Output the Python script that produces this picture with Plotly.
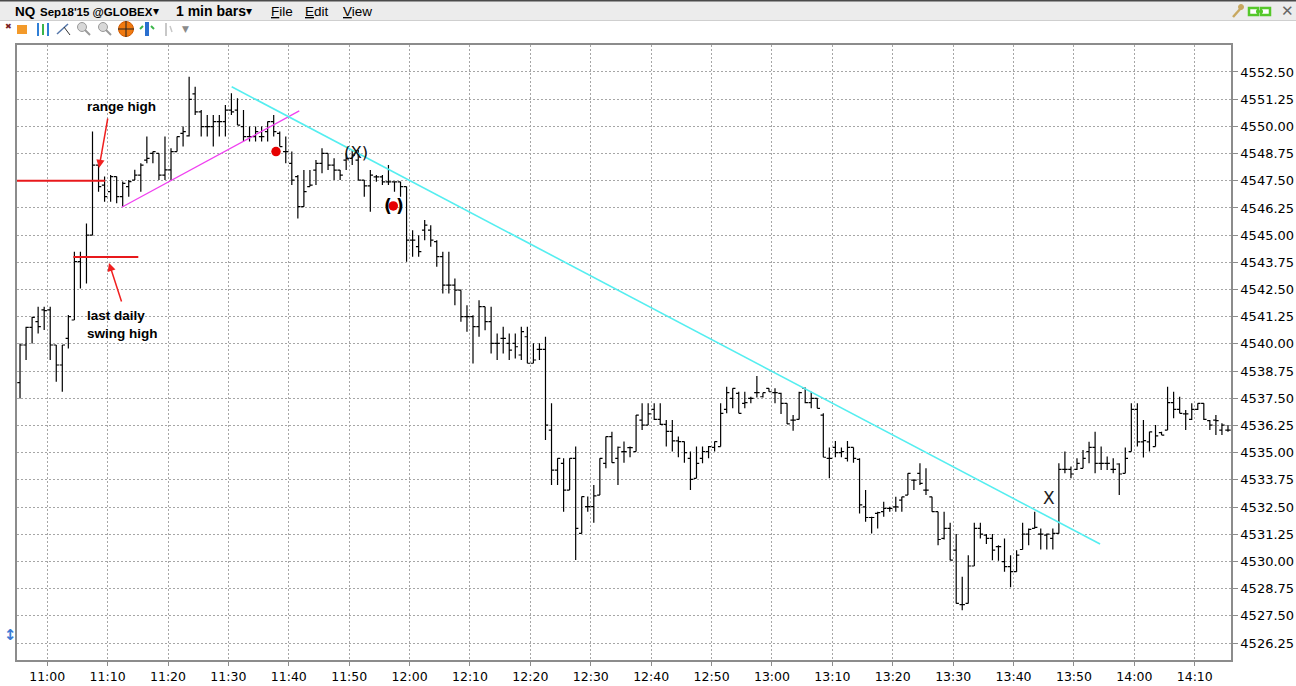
import pandas as pd
import plotly.graph_objects as go

# NQ Sep18'15, 1 minute bars (the session date is not shown on the chart)
DAY = "2015-08-27"

opens = [
    4538.22, 4539.95, 4540.76, 4541.02, 4541.56, 4541.56, 4539.95, 4539.03, 4540.25, 4541.10,
    4543.78, 4544.01, 4545.00, 4548.22, 4547.30, 4547.00, 4547.69, 4546.77, 4547.23, 4547.53,
    4547.76, 4548.45, 4548.76, 4548.76, 4547.76, 4548.00, 4548.84, 4549.68, 4549.56, 4551.49,
    4550.67, 4549.99, 4549.99, 4550.22, 4550.22, 4550.75, 4550.75, 4549.99, 4549.53, 4549.53,
    4549.53, 4549.76, 4550.22, 4549.68, 4548.84, 4548.30, 4547.69, 4546.31, 4547.23, 4547.99,
    4548.30, 4548.76, 4548.22, 4547.99, 4548.45, 4548.53, 4548.45, 4547.53, 4547.26, 4547.68,
    4547.68, 4547.45, 4547.45, 4547.45, 4547.23, 4544.77, 4544.47, 4545.23, 4545.23, 4544.70,
    4544.01, 4542.70, 4542.70, 4542.47, 4541.25, 4541.25, 4540.79, 4541.71, 4541.02, 4540.02,
    4540.25, 4540.02, 4540.02, 4539.49, 4540.33, 4539.11, 4539.75, 4539.75, 4536.04, 4534.20,
    4534.51, 4533.28, 4534.74, 4531.29, 4532.52, 4532.52, 4533.05, 4534.51, 4535.74, 4534.74,
    4535.05, 4535.23, 4535.05, 4536.50, 4536.27, 4536.99, 4536.53, 4536.30, 4535.98, 4535.54,
    4535.51, 4534.74, 4533.82, 4534.74, 4535.05, 4535.24, 4535.28, 4536.99, 4537.50, 4537.73,
    4537.27, 4537.50, 4537.76, 4537.57, 4537.96, 4537.76, 4537.73, 4537.27, 4536.50, 4536.53,
    4537.96, 4537.30, 4537.50, 4536.73, 4534.74, 4535.24, 4535.00, 4534.74, 4535.24, 4534.69,
    4532.51, 4532.02, 4532.21, 4532.29, 4532.44, 4532.51, 4532.82, 4533.05, 4533.74, 4534.05,
    4533.28, 4532.97, 4532.29, 4531.06, 4531.52, 4530.52, 4528.02, 4528.07, 4529.79, 4531.52,
    4531.21, 4531.06, 4530.68, 4529.99, 4529.76, 4529.53, 4530.55, 4531.26, 4531.52, 4531.26,
    4531.21, 4531.06, 4531.29, 4534.23, 4534.23, 4534.23, 4534.28, 4535.05, 4535.24, 4534.51,
    4534.51, 4534.23, 4534.48, 4534.05, 4535.05, 4536.99, 4535.50, 4535.50, 4535.28, 4535.92,
    4536.04, 4537.30, 4536.99, 4536.78, 4536.53, 4536.99, 4537.27, 4536.47, 4536.50, 4536.04,
    4536.04,
]
highs = [
    4540.02, 4540.79, 4541.25, 4541.71, 4541.71, 4541.71, 4539.95, 4539.95, 4541.33, 4544.24,
    4544.24, 4545.54, 4549.76, 4548.22, 4547.69, 4547.76, 4547.69, 4547.46, 4547.53, 4548.00,
    4548.30, 4549.53, 4548.84, 4548.76, 4549.53, 4548.99, 4549.53, 4549.99, 4552.28, 4551.82,
    4550.75, 4550.52, 4550.52, 4550.52, 4550.98, 4551.52, 4551.29, 4550.75, 4549.99, 4549.99,
    4549.99, 4550.22, 4550.52, 4549.76, 4549.53, 4548.84, 4547.76, 4547.99, 4547.99, 4548.45,
    4548.99, 4548.76, 4548.53, 4547.99, 4548.76, 4548.91, 4548.91, 4547.53, 4547.99, 4547.76,
    4547.76, 4548.22, 4547.45, 4547.45, 4547.23, 4545.23, 4545.00, 4545.69, 4545.46, 4544.77,
    4544.24, 4544.24, 4543.01, 4542.47, 4541.78, 4541.32, 4542.01, 4541.71, 4541.71, 4540.48,
    4540.79, 4540.48, 4540.48, 4540.79, 4540.79, 4540.03, 4540.03, 4540.33, 4537.27, 4534.74,
    4534.74, 4534.74, 4535.28, 4532.98, 4532.98, 4533.51, 4534.74, 4535.74, 4535.96, 4535.28,
    4535.51, 4535.28, 4536.73, 4537.27, 4537.27, 4537.27, 4537.27, 4536.50, 4536.50, 4535.74,
    4535.51, 4535.05, 4535.28, 4535.28, 4535.31, 4535.51, 4537.27, 4538.03, 4537.96, 4537.80,
    4537.80, 4537.57, 4538.52, 4537.76, 4537.96, 4537.96, 4537.76, 4537.27, 4536.73, 4537.80,
    4538.00, 4537.80, 4537.50, 4536.81, 4535.24, 4535.54, 4535.24, 4535.54, 4535.24, 4534.74,
    4533.28, 4532.06, 4532.29, 4532.74, 4532.51, 4532.97, 4532.97, 4534.05, 4533.77, 4534.51,
    4534.28, 4532.97, 4532.29, 4532.29, 4531.78, 4531.26, 4529.30, 4530.29, 4531.78, 4531.78,
    4531.26, 4531.26, 4530.75, 4531.06, 4530.29, 4530.52, 4531.78, 4531.52, 4532.29, 4531.52,
    4531.29, 4531.52, 4534.51, 4535.05, 4534.36, 4534.74, 4535.12, 4535.50, 4535.96, 4535.28,
    4534.82, 4534.74, 4534.51, 4535.24, 4537.27, 4537.27, 4536.50, 4535.96, 4536.27, 4535.96,
    4538.03, 4537.80, 4537.57, 4536.96, 4537.27, 4537.27, 4537.27, 4536.50, 4536.73, 4536.35,
    4536.27,
]
lows = [
    4537.49, 4539.26, 4540.02, 4540.48, 4540.64, 4539.26, 4538.26, 4537.80, 4539.79, 4541.10,
    4542.55, 4542.78, 4545.00, 4547.00, 4546.54, 4546.54, 4546.46, 4546.31, 4546.77, 4547.53,
    4547.00, 4548.30, 4548.30, 4547.53, 4547.53, 4547.53, 4548.84, 4549.07, 4549.53, 4550.52,
    4549.53, 4549.53, 4549.07, 4549.53, 4549.53, 4550.52, 4550.06, 4549.30, 4549.30, 4549.30,
    4549.30, 4549.30, 4549.53, 4549.07, 4548.30, 4547.30, 4545.77, 4546.31, 4547.23, 4547.30,
    4547.84, 4547.99, 4547.53, 4547.53, 4547.99, 4548.22, 4547.53, 4546.76, 4546.08, 4547.45,
    4547.30, 4547.30, 4546.99, 4546.76, 4543.78, 4544.01, 4544.01, 4544.77, 4544.47, 4543.55,
    4542.32, 4542.32, 4541.78, 4541.02, 4540.56, 4539.10, 4540.33, 4540.63, 4539.56, 4539.26,
    4539.56, 4539.26, 4539.33, 4539.26, 4539.11, 4539.11, 4539.26, 4535.58, 4533.51, 4533.51,
    4532.29, 4533.28, 4530.07, 4531.29, 4532.29, 4531.78, 4533.05, 4534.28, 4534.54, 4533.51,
    4534.54, 4534.79, 4535.05, 4536.04, 4536.27, 4536.50, 4536.27, 4535.28, 4535.05, 4534.79,
    4534.54, 4533.28, 4533.82, 4534.51, 4534.74, 4535.05, 4535.28, 4536.81, 4537.04, 4536.81,
    4537.04, 4537.27, 4537.54, 4537.54, 4537.80, 4537.27, 4536.78, 4536.32, 4536.01, 4536.53,
    4537.27, 4537.04, 4537.04, 4534.79, 4533.82, 4534.79, 4534.79, 4534.59, 4534.54, 4532.20,
    4531.83, 4531.29, 4531.52, 4532.06, 4532.29, 4532.29, 4532.29, 4533.05, 4533.28, 4533.51,
    4533.05, 4532.29, 4530.75, 4531.01, 4530.06, 4528.07, 4527.76, 4528.07, 4529.79, 4531.06,
    4530.80, 4530.06, 4530.03, 4529.53, 4528.81, 4529.53, 4530.55, 4530.75, 4531.52, 4530.55,
    4530.55, 4530.55, 4531.29, 4534.05, 4533.82, 4534.20, 4534.28, 4534.51, 4534.05, 4534.20,
    4534.20, 4534.05, 4533.05, 4534.05, 4535.05, 4535.28, 4534.78, 4535.05, 4535.28, 4535.81,
    4536.04, 4536.58, 4536.81, 4536.04, 4536.50, 4536.96, 4536.50, 4536.04, 4535.81, 4535.81,
    4535.96,
]
closes = [
    4539.95, 4540.76, 4541.22, 4540.79, 4541.53, 4539.95, 4539.03, 4539.95, 4541.25, 4543.78,
    4544.01, 4545.00, 4548.22, 4547.23, 4546.77, 4547.69, 4546.77, 4547.38, 4547.46, 4547.76,
    4548.22, 4548.53, 4548.84, 4547.76, 4548.00, 4548.84, 4549.53, 4549.76, 4551.24, 4550.67,
    4549.99, 4549.99, 4550.22, 4550.22, 4550.75, 4550.67, 4550.06, 4549.53, 4549.53, 4549.76,
    4549.53, 4550.22, 4549.76, 4549.07, 4548.84, 4547.53, 4546.31, 4547.00, 4547.30, 4548.30,
    4548.76, 4548.22, 4547.99, 4547.76, 4548.53, 4548.68, 4547.53, 4547.26, 4547.76, 4547.68,
    4547.45, 4547.45, 4547.45, 4547.23, 4544.77, 4544.77, 4544.24, 4545.46, 4544.77, 4544.01,
    4542.70, 4542.70, 4542.47, 4541.25, 4541.25, 4540.79, 4541.71, 4541.02, 4540.02, 4540.02,
    4540.25, 4539.71, 4539.87, 4540.56, 4539.11, 4539.26, 4539.75, 4536.27, 4534.20, 4534.74,
    4533.28, 4534.74, 4531.52, 4532.98, 4532.52, 4533.01, 4534.74, 4535.74, 4534.54, 4535.25,
    4535.05, 4535.23, 4536.73, 4536.27, 4536.78, 4536.53, 4536.30, 4535.98, 4535.54, 4535.51,
    4535.00, 4533.77, 4534.51, 4535.05, 4535.28, 4535.51, 4536.81, 4537.76, 4537.96, 4536.81,
    4537.30, 4537.50, 4537.76, 4537.76, 4537.80, 4537.76, 4537.27, 4536.32, 4536.50, 4537.76,
    4537.30, 4537.50, 4537.04, 4534.79, 4534.74, 4535.00, 4535.05, 4535.24, 4534.74, 4532.60,
    4532.02, 4532.02, 4532.24, 4532.44, 4532.44, 4532.51, 4532.97, 4534.05, 4533.74, 4533.59,
    4533.28, 4532.29, 4531.01, 4531.52, 4530.06, 4528.07, 4528.02, 4529.79, 4531.52, 4531.26,
    4531.06, 4530.52, 4530.68, 4529.76, 4529.53, 4530.29, 4531.26, 4531.47, 4531.57, 4531.26,
    4531.26, 4531.29, 4534.23, 4534.23, 4534.02, 4534.51, 4534.74, 4535.24, 4534.51, 4534.51,
    4534.51, 4534.23, 4534.02, 4534.74, 4536.99, 4535.50, 4535.55, 4535.96, 4535.77, 4535.81,
    4537.30, 4536.99, 4536.81, 4536.78, 4536.99, 4537.27, 4536.53, 4536.27, 4536.47, 4536.27,
    4536.04,
]

# drawn levels / trendlines / markers (time, price)
range_high = 4547.50
swing_high = 4544.00
pink_line = [("11:12:20", 4546.28), ("11:41:44", 4550.71)]
cyan_line = [("11:30:33", 4551.82), ("13:54:19", 4530.80)]
dot_times = ["11:37:53", "11:57:18"]
dot_prices = [4548.84, 4546.34]


def t(hms):
    return f"{DAY} {hms}"


# each 1-min bar is drawn at the middle of its minute
times = pd.date_range(t("10:55:30"), periods=len(opens), freq="min")

# pixel -> paper helpers (plot area is x 17..1231, y 45..660)
def px(x):
    return (x - 17) / 1214


def py(y):
    return (660 - y) / 615


fig = go.Figure()
fig.add_trace(go.Ohlc(
    x=times, open=opens, high=highs, low=lows, close=closes,
    increasing_line_color="black", decreasing_line_color="black",
    line_width=1.2, tickwidth=0.45, hoverinfo="skip", showlegend=False,
))
fig.add_trace(go.Scatter(
    x=[t(s) for s in dot_times], y=dot_prices, mode="markers",
    marker=dict(color="#e60000", size=9.5), hoverinfo="skip", showlegend=False,
))

shapes = []
# red reference levels
shapes.append(dict(type="line", xref="x", yref="y", x0=t("10:54:40"), x1=t("11:09:35"),
                   y0=range_high, y1=range_high, line=dict(color="#e8191c", width=2)))
shapes.append(dict(type="line", xref="x", yref="y", x0=t("11:04:20"), x1=t("11:15:05"),
                   y0=swing_high, y1=swing_high, line=dict(color="#e8191c", width=2)))
# trendlines
shapes.append(dict(type="line", xref="x", yref="y",
                   x0=t(pink_line[0][0]), y0=pink_line[0][1],
                   x1=t(pink_line[1][0]), y1=pink_line[1][1],
                   line=dict(color="#f040f0", width=1.3)))
shapes.append(dict(type="line", xref="x", yref="y",
                   x0=t(cyan_line[0][0]), y0=cyan_line[0][1],
                   x1=t(cyan_line[1][0]), y1=cyan_line[1][1],
                   line=dict(color="#55eef0", width=1.6)))

# window chrome: title bar + toolbar
def rect(x0, y0, x1, y1, fill, line=None, layer="above"):
    return dict(type="rect", xref="paper", yref="paper", x0=px(x0), x1=px(x1),
                y0=py(y0), y1=py(y1), fillcolor=fill, layer=layer,
                line=dict(width=0) if line is None else line)


def seg(x0, y0, x1, y1, color, width=1.5):
    return dict(type="line", xref="paper", yref="paper", x0=px(x0), x1=px(x1),
                y0=py(y0), y1=py(y1), line=dict(color=color, width=width))


def circ(cx, cy, r, fill, line_color=None, width=1):
    return dict(type="circle", xref="paper", yref="paper", x0=px(cx - r), x1=px(cx + r),
                y0=py(cy + r), y1=py(cy - r), fillcolor=fill,
                line=dict(color=line_color or fill, width=width))


shapes += [
    rect(0, 0, 1296, 20, "#ececec", layer="below"),
    rect(0, 0, 1296, 1.5, "#4a4a4a"),
    seg(0, 20.5, 1296, 20.5, "#cfcfcf", 1),
    # toolbar glyphs
    rect(17, 25, 27, 34, "#f39a2a"),
    seg(38, 23, 38, 36, "#2f7fd6", 2), seg(43, 24, 43, 35, "#3bb54a", 2),
    seg(48, 23, 48, 36, "#2f7fd6", 2),
    seg(57, 34, 68, 24, "#5577aa", 1.5), seg(64, 27, 70, 35, "#333333", 1),
    circ(82, 27, 4.5, "#d8d8d8", "#9a9a9a"), seg(85, 30, 90, 35, "#9a9a9a", 2),
    circ(103, 27, 4.5, "#d8d8d8", "#9a9a9a"), seg(106, 30, 111, 35, "#9a9a9a", 2),
    circ(126, 29, 7.5, "#f07a10", "#d05a00"),
    seg(118, 29, 134, 29, "#222222", 1), seg(126, 21, 126, 37, "#222222", 1),
    rect(145, 22, 149, 36, "#2a6fcf"),
    seg(140, 29, 143, 26, "#3bb54a", 2), seg(151, 26, 154, 29, "#3bb54a", 2),
    seg(166, 23, 166, 36, "#c8c8c8", 2), seg(170, 26, 172, 32, "#c8c8c8", 1.5),
    # top right glyphs
    seg(1233, 17, 1241, 8, "#c8a860", 2.5),
    circ(1241, 7, 2.5, "#c8a860"),
    rect(1249, 8, 1258, 15, "#ffffff", dict(color="#55c82a", width=2.5)),
    rect(1261, 8, 1270, 15, "#ffffff", dict(color="#55c82a", width=2.5)),
    seg(1256, 11.5, 1263, 11.5, "#55c82a", 2.5),
]

hdr_font = "Liberation Sans"
annotations = []


def label(x, y, text, size=13, bold=False, color="black", family=hdr_font,
          xanchor="left", align="left"):
    if bold:
        text = f"<b>{text}</b>"
    annotations.append(dict(xref="paper", yref="paper", x=px(x), y=py(y), text=text,
                            showarrow=False, xanchor=xanchor, yanchor="middle",
                            align=align, font=dict(family=family, size=size, color=color)))


def ul(s):
    return f'<span style="text-decoration:underline">{s[0]}</span>{s[1:]}'


label(13, 11, "NQ", 13.5, bold=True)
label(38, 11.5, "Sep18'15 @GLOBEX", 11.5, bold=True)
label(151, 11, "▾", 12, family="DejaVu Sans")
label(174, 11, "1 min bars", 14, bold=True)
label(244, 11, "▾", 12, family="DejaVu Sans")
label(269, 11, ul("File"), 13.5)
label(303, 11, ul("Edit"), 13.5)
label(341, 11, ul("View"), 13.5)
label(1287, 11, "✕", 15, color="#666666", family="DejaVu Sans", xanchor="center")
label(3, 27, "✖", 8, color="#7a1f1f", family="DejaVu Sans")
label(180, 29, "▼", 9, color="#8a8a8a", family="DejaVu Sans")
label(2, 635, "↕", 15, bold=True, color="#3a7bd5", family="DejaVu Sans")

# chart notes
label(121, 106, "range high", 13.5, bold=True, xanchor="center")
label(85, 324, "last daily<br>swing high", 13.5, bold=True)
label(356, 152, "(X)", 16.5, family="DejaVu Sans", xanchor="center", color="#111111")
label(387.5, 206, "(", 17, bold=True, family="DejaVu Sans", xanchor="center")
label(399.5, 206, ")", 17, bold=True, family="DejaVu Sans", xanchor="center")
label(1049, 498, "X", 17, family="DejaVu Sans", xanchor="center", color="#222222")

# red arrows
annotations.append(dict(xref="paper", yref="paper", x=px(99), y=py(168), ax=9, ay=-51,
                        text="", showarrow=True, arrowhead=2, arrowsize=1.1,
                        arrowwidth=1.5, arrowcolor="#f02020"))
annotations.append(dict(xref="paper", yref="paper", x=px(109), y=py(263), ax=13, ay=40,
                        text="", showarrow=True, arrowhead=2, arrowsize=1.1,
                        arrowwidth=1.5, arrowcolor="#f02020"))

grid = dict(showgrid=True, gridcolor="#a6a6a6", gridwidth=1, griddash="2px,2px",
            showline=True, linecolor="#8c8c8c", linewidth=1.5, mirror=True,
            ticks="outside", tickcolor="#8c8c8c", zeroline=False, fixedrange=True,
            automargin=False)

fig.update_layout(
    width=1296, height=686,
    margin=dict(l=17, r=65, t=45, b=26, autoexpand=False),
    paper_bgcolor="white", plot_bgcolor="white",
    showlegend=False,
    shapes=shapes,
    annotations=annotations,
    xaxis=dict(type="date", range=[t("10:55:00"), t("14:16:00")],
               dtick=600000, tickformat="%H:%M", ticklen=4,
               tickfont=dict(family="DejaVu Sans", size=12.5, color="black"),
               rangeslider=dict(visible=False), **grid),
    yaxis=dict(side="right", range=[4525.47, 4553.74], tick0=4526.25, dtick=1.25,
               tickformat=".2f", ticklen=5,
               tickfont=dict(family="DejaVu Sans", size=13, color="black"), **grid),
)

# keep the figure flush with the window: no body margin, no scrollbars
page_css = (
    "document.documentElement.style.overflow='hidden';"
    "document.body.style.margin='0px';"
    "document.body.style.overflow='hidden';"
)
fig.write_html("out.html", config={"displayModeBar": False}, post_script=page_css)
